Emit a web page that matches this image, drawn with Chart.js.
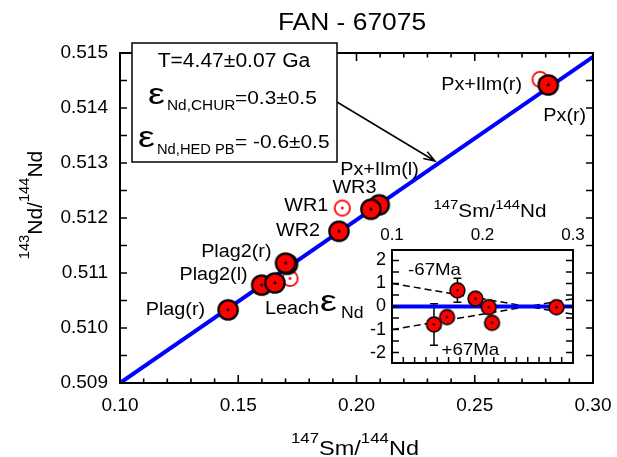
<!DOCTYPE html>
<html><head><meta charset="utf-8">
<script src="https://cdn.jsdelivr.net/npm/chart.js@4.4.1/dist/chart.umd.min.js"></script>
<style>
html,body{margin:0;padding:0;background:#fff;}
#wrap{position:relative;width:617px;height:457px;overflow:hidden;}
#main{position:absolute;left:0;top:0;}
#inset{position:absolute;left:300px;top:190px;}
</style></head><body>
<div id="wrap"><canvas id="main" width="617" height="457"></canvas><canvas id="inset" width="300" height="190"></canvas></div>
<script>
// ---------------- DATA ----------------
const chartTitle = 'FAN - 67075';
const filledNames = ['Plag(r)', 'Plag2(l)', '', '', 'Plag2(r)', 'WR2', 'Px+Ilm(l)', 'WR3', 'Px(r)'];
const filledSmNd  = [0.1457, 0.1599, 0.1655, 0.1708, 0.1700, 0.1926, 0.2096, 0.2061, 0.2811];
const filledNdNd  = [0.51033, 0.51078, 0.51082, 0.51116, 0.51118, 0.51176, 0.51224, 0.51216, 0.51442];
const openNames   = ['Leach', 'WR1', 'Px+Ilm(r)'];
const openSmNd    = [0.1719, 0.1940, 0.2776];
const openNdNd    = [0.51090, 0.51218, 0.51452];
const isochronSmNd = [0.10, 0.30];
const isochronNdNd = [0.50900, 0.51493];
const xTickLabels = ['0.10', '0.15', '0.20', '0.25', '0.30'];
const yTickLabels = ['0.509', '0.510', '0.511', '0.512', '0.513', '0.514', '0.515'];

const insetSmNd = [0.1464, 0.1608, 0.1723, 0.1922, 0.2069, 0.2105, 0.2817];
const insetEps  = [-0.78, -0.46, 0.70, 0.34, -0.03, -0.71, -0.03];
const insetErr  = [0.90, 0, 0.52, 0, 0, 0, 0];
const zeroLineX = [0.1, 0.3];
const zeroLineY = [0, 0];
const minus67X = [0.1, 0.3];
const minus67Y = [1.0, -0.333];
const plus67X  = [0.1, 0.3];
const plus67Y  = [-1.0, 0.333];
const insetXTickLabels = ['0.1', '0.2', '0.3'];
const insetYTickLabels = ['-2', '-1', '0', '1', '2'];

const boxLines = ['T=4.47\u00B10.07 Ga', '=0.3\u00B10.5', '= -0.6\u00B10.5'];
const boxSubs = ['Nd,CHUR', 'Nd,HED PB'];

// ---------------- STYLE ----------------
const FONT = '"Liberation Sans", Arial, Helvetica, sans-serif';
const SX = 1.1;
const labelStyle = { // dx, dy (to baseline), align
  'Plag(r)': [-23, 5.5, 'right'],
  'Plag2(l)': [-14, -5, 'right'],
  'Plag2(r)': [-14, -6, 'right'],
  'WR2': [-19, 5, 'right'],
  'Px+Ilm(l)': [-39, -30, 'left'],
  'WR3': [5.5, -16, 'right'],
  'Px(r)': [-5, 36.5, 'left'],
  'Leach': [-25, 35, 'left'],
  'WR1': [-14, 3, 'right'],
  'Px+Ilm(r)': [-18, 10.5, 'right']
};

function pts(xs, ys) { return xs.map((x, i) => ({ x: x, y: ys[i] })); }
function txt(ctx, s, x, y, size, align, sx, color) {
  ctx.save();
  ctx.font = size + 'px ' + FONT;
  ctx.fillStyle = color || '#000';
  ctx.textAlign = align || 'left';
  ctx.textBaseline = 'alphabetic';
  ctx.translate(x, y); ctx.scale(sx == null ? SX : sx, 1);
  ctx.fillText(s, 0, 0);
  ctx.restore();
}
function tw(ctx, s, size, sx) {
  ctx.save(); ctx.font = size + 'px ' + FONT;
  const w = ctx.measureText(s).width * (sx == null ? SX : sx);
  ctx.restore(); return w;
}
function composite(ctx, parts, cx, base, sx) {
  let total = 0;
  parts.forEach(p => total += tw(ctx, p.t, p.size, sx));
  let x = cx - total / 2;
  parts.forEach(p => { txt(ctx, p.t, x, base + p.dy, p.size, 'left', sx); x += tw(ctx, p.t, p.size, sx); });
}
function ptImg(r, lw, fill, stroke, dotR, dotColor) {
  const s = Math.ceil(2 * r + lw + 2);
  const c = document.createElement('canvas'); c.width = c.height = s;
  const g = c.getContext('2d'); const m = s / 2;
  g.beginPath(); g.arc(m, m, r, 0, Math.PI * 2);
  if (fill) { g.fillStyle = fill; g.fill(); }
  g.lineWidth = lw; g.strokeStyle = stroke; g.stroke();
  g.beginPath(); g.arc(m, m, dotR, 0, Math.PI * 2); g.fillStyle = dotColor; g.fill();
  return c;
}
function buildTicks(labels, sub) {
  const majors = labels.map(parseFloat);
  const out = [];
  for (let i = 0; i < majors.length; i++) {
    out.push(majors[i]);
    if (i < majors.length - 1) {
      const step = (majors[i + 1] - majors[i]) / sub;
      for (let k = 1; k < sub; k++) out.push(+(majors[i] + k * step).toFixed(6));
    }
  }
  return out;
}
function labelFor(labels) {
  return function (v) {
    for (const l of labels) if (Math.abs(parseFloat(l) - v) < 1e-7) return l;
    return '';
  };
}
function zeroPad(s) { s.paddingLeft = 0; s.paddingRight = 0; s.paddingTop = 0; s.paddingBottom = 0; }
function drawFrameTicks(ctx, chart, xs, ys, opt) {
  const a = chart.chartArea;
  ctx.save();
  ctx.strokeStyle = '#000';
  ctx.lineWidth = opt.tickW;
  ctx.beginPath();
  xs.ticks.forEach(t => {
    const p = xs.getPixelForValue(t.value);
    const major = t.label !== '';
    const L = major ? opt.xMaj : opt.xMin;
    if (opt.bottom) { ctx.moveTo(p, a.bottom); ctx.lineTo(p, a.bottom - L); }
    if (opt.top) { ctx.moveTo(p, a.top); ctx.lineTo(p, a.top + L); }
  });
  ys.ticks.forEach(t => {
    const p = ys.getPixelForValue(t.value);
    const major = t.label !== '';
    const L = major ? opt.yMaj : opt.yMin;
    ctx.moveTo(a.left, p); ctx.lineTo(a.left + L, p);
    ctx.moveTo(a.right, p); ctx.lineTo(a.right - L, p);
  });
  ctx.stroke();
  ctx.lineWidth = opt.frameW;
  ctx.strokeRect(a.left, a.top, a.right - a.left, a.bottom - a.top);
  ctx.restore();
}

// ---------------- MAIN CHART ----------------
const filledImg = ptImg(9.7, 2.2, '#ff0000', '#000', 1.4, '#000');
const openImg = ptImg(7.6, 1.8, null, '#ff0000', 1.4, '#ff0000');
const insetImg = ptImg(7.4, 1.6, '#ff0000', '#000', 1.2, '#000');

const xMainTicks = buildTicks(xTickLabels, 5);
const yMainTicks = buildTicks(yTickLabels, 2);

const mainPlugin = {
  id: 'mainDecor',
  afterDraw(chart) {
    const ctx = chart.ctx;
    const xs = chart.scales.x, ys = chart.scales.y;
    drawFrameTicks(ctx, chart, xs, ys, { tickW: 1.6, frameW: 2, xMaj: 8, xMin: 4.5, yMaj: 7, yMin: 7, bottom: true, top: true });
    // point labels
    const m0 = chart.getDatasetMeta(0).data;
    filledNames.forEach((n, i) => {
      if (!n) return; const s = labelStyle[n]; const el = m0[i];
      txt(ctx, n, el.x + s[0], el.y + s[1], 18, s[2]);
    });
    const m1 = chart.getDatasetMeta(1).data;
    openNames.forEach((n, i) => {
      const s = labelStyle[n]; const el = m1[i];
      txt(ctx, n, el.x + s[0], el.y + s[1], 18, s[2]);
    });
    // title
    txt(ctx, chartTitle, 352, 30, 24, 'center');
    // axis titles
    composite(ctx, [{ t: '147', size: 15, dy: -12 }, { t: 'Sm/', size: 21, dy: 0 }, { t: '144', size: 15, dy: -12 }, { t: 'Nd', size: 21, dy: 0 }], 355, 455, 1.12);
    ctx.save(); ctx.translate(42, 205); ctx.rotate(-Math.PI / 2);
    composite(ctx, [{ t: '143', size: 14, dy: -13 }, { t: 'Nd/', size: 20, dy: 0 }, { t: '144', size: 14, dy: -13 }, { t: 'Nd', size: 20, dy: 0 }], 0, 0, 1.05);
    ctx.restore();
    // annotation box
    ctx.save();
    ctx.fillStyle = '#fff'; ctx.fillRect(132, 43, 205, 119);
    ctx.strokeStyle = '#000'; ctx.lineWidth = 1.5; ctx.strokeRect(132, 43, 205, 119);
    ctx.restore();
    txt(ctx, boxLines[0], 234, 66.5, 19.5, 'center', 1.08);
    txt(ctx, '\u03B5', 148, 104, 29, 'left', 1.3);
    txt(ctx, boxSubs[0], 167, 110, 14, 'left', 1.1);
    txt(ctx, boxLines[1], 235, 103.5, 19, 'left', 1.1);
    txt(ctx, '\u03B5', 138, 147, 29, 'left', 1.3);
    txt(ctx, boxSubs[1], 157, 153.5, 14, 'left', 1.05);
    txt(ctx, boxLines[2], 235, 148, 19, 'left', 1.1);
    // arrow
    ctx.save(); ctx.strokeStyle = '#000'; ctx.lineWidth = 1.5;
    const x0 = 337, y0 = 102, x1 = 435, y1 = 161;
    const ang = Math.atan2(y1 - y0, x1 - x0);
    ctx.beginPath(); ctx.moveTo(x0, y0); ctx.lineTo(x1, y1);
    ctx.moveTo(x1 - 12 * Math.cos(ang - 0.33), y1 - 12 * Math.sin(ang - 0.33)); ctx.lineTo(x1, y1);
    ctx.lineTo(x1 - 12 * Math.cos(ang + 0.33), y1 - 12 * Math.sin(ang + 0.33));
    ctx.stroke(); ctx.restore();
  }
};

new Chart(document.getElementById('main'), {
  type: 'scatter',
  data: {
    datasets: [
      { data: pts(filledSmNd, filledNdNd), pointStyle: filledImg, pointRadius: 11, pointHoverRadius: 11 },
      { data: pts(openSmNd, openNdNd), pointStyle: openImg, pointRadius: 9, pointHoverRadius: 9 },
      { data: pts(isochronSmNd, isochronNdNd), showLine: true, borderColor: '#0000ff', borderWidth: 4, pointRadius: 0, fill: false }
    ]
  },
  options: {
    responsive: false, animation: false, devicePixelRatio: 1,
    layout: { padding: { top: 53, right: 24, bottom: 0, left: 0 } },
    plugins: { legend: { display: false }, tooltip: { enabled: false }, title: { display: false } },
    scales: {
      x: {
        type: 'linear', position: 'bottom', min: 0.10, max: 0.30,
        afterBuildTicks: s => { s.ticks = xMainTicks.map(v => ({ value: v })); },
        afterFit: s => { s.height = 74; zeroPad(s); },
        grid: { display: false, drawTicks: false }, border: { display: false },
        ticks: { autoSkip: false, maxRotation: 0, padding: 11, color: '#000', font: { family: FONT, size: 19 }, callback: labelFor(xTickLabels) }
      },
      y: {
        type: 'linear', position: 'left', min: 0.509, max: 0.515,
        afterBuildTicks: s => { s.ticks = yMainTicks.map(v => ({ value: v })); },
        afterFit: s => { s.width = 120; zeroPad(s); },
        grid: { display: false, drawTicks: false }, border: { display: false },
        ticks: { autoSkip: false, padding: 12, color: '#000', font: { family: FONT, size: 19 }, callback: labelFor(yTickLabels) }
      }
    }
  },
  plugins: [mainPlugin]
});

// ---------------- INSET ----------------
const OX = 300, OY = 190;
const xInsetTicks = buildTicks(insetXTickLabels, 8);
const yInsetTicks = buildTicks(insetYTickLabels, 2);

const insetPlugin = {
  id: 'insetDecor',
  beforeDatasetsDraw(chart) {
    const ctx = chart.ctx, a = chart.chartArea;
    ctx.save(); ctx.fillStyle = '#fff'; ctx.fillRect(a.left, a.top, a.right - a.left, a.bottom - a.top); ctx.restore();
    const xs = chart.scales.x, ys = chart.scales.y;
    ctx.save(); ctx.strokeStyle = '#000'; ctx.lineWidth = 1.5; ctx.beginPath();
    insetErr.forEach((e, i) => {
      if (!e) return;
      const px = xs.getPixelForValue(insetSmNd[i]);
      const t = ys.getPixelForValue(insetEps[i] + e), b = ys.getPixelForValue(insetEps[i] - e);
      ctx.moveTo(px, t); ctx.lineTo(px, b);
      ctx.moveTo(px - 4, t); ctx.lineTo(px + 4, t);
      ctx.moveTo(px - 4, b); ctx.lineTo(px + 4, b);
    });
    ctx.stroke(); ctx.restore();
  },
  afterDraw(chart) {
    const ctx = chart.ctx;
    drawFrameTicks(ctx, chart, chart.scales.x, chart.scales.y, { tickW: 1.5, frameW: 2, xMaj: 6, xMin: 6, yMaj: 7, yMin: 7, bottom: true, top: false });
    composite(ctx, [{ t: '147', size: 13, dy: -8 }, { t: 'Sm/', size: 18, dy: 0 }, { t: '144', size: 13, dy: -8 }, { t: 'Nd', size: 18, dy: 0 }], 490 - OX, 217 - OY, 1.15);
    txt(ctx, '-67Ma', 408 - OX, 274.5 - OY, 17, 'left');
    txt(ctx, '+67Ma', 441.5 - OX, 355 - OY, 17, 'left');
    txt(ctx, '\u03B5', 320 - OX, 311 - OY, 29, 'left', 1.3);
    txt(ctx, 'Nd', 341 - OX, 318 - OY, 16, 'left');
  }
};

new Chart(document.getElementById('inset'), {
  type: 'scatter',
  data: {
    datasets: [
      { data: pts(insetSmNd, insetEps), pointStyle: insetImg, pointRadius: 9, pointHoverRadius: 9 },
      { data: pts(zeroLineX, zeroLineY), showLine: true, borderColor: '#0000ff', borderWidth: 4, pointRadius: 0, fill: false },
      { data: pts(minus67X, minus67Y), showLine: true, borderColor: '#000', borderWidth: 1.5, borderDash: [7, 4], pointRadius: 0, fill: false },
      { data: pts(plus67X, plus67Y), showLine: true, borderColor: '#000', borderWidth: 1.5, borderDash: [7, 4], pointRadius: 0, fill: false }
    ]
  },
  options: {
    responsive: false, animation: false, devicePixelRatio: 1,
    layout: { padding: { top: 0, right: 27, bottom: 17, left: 0 } },
    plugins: { legend: { display: false }, tooltip: { enabled: false } },
    scales: {
      x: {
        type: 'linear', position: 'top', min: 0.1, max: 0.3,
        afterBuildTicks: s => { s.ticks = xInsetTicks.map(v => ({ value: v })); },
        afterFit: s => { s.height = 60; zeroPad(s); },
        grid: { display: false, drawTicks: false }, border: { display: false },
        ticks: { autoSkip: false, maxRotation: 0, padding: 4, color: '#000', font: { family: FONT, size: 17 }, callback: labelFor(insetXTickLabels) }
      },
      y: {
        type: 'linear', position: 'left', min: -2.45, max: 2.45,
        afterBuildTicks: s => { s.ticks = yInsetTicks.map(v => ({ value: v })); },
        afterFit: s => { s.width = 92; zeroPad(s); },
        grid: { display: false, drawTicks: false }, border: { display: false },
        ticks: { autoSkip: false, padding: 6, color: '#000', font: { family: FONT, size: 18 }, callback: labelFor(insetYTickLabels) }
      }
    }
  },
  plugins: [insetPlugin]
});
</script>
</body></html>
